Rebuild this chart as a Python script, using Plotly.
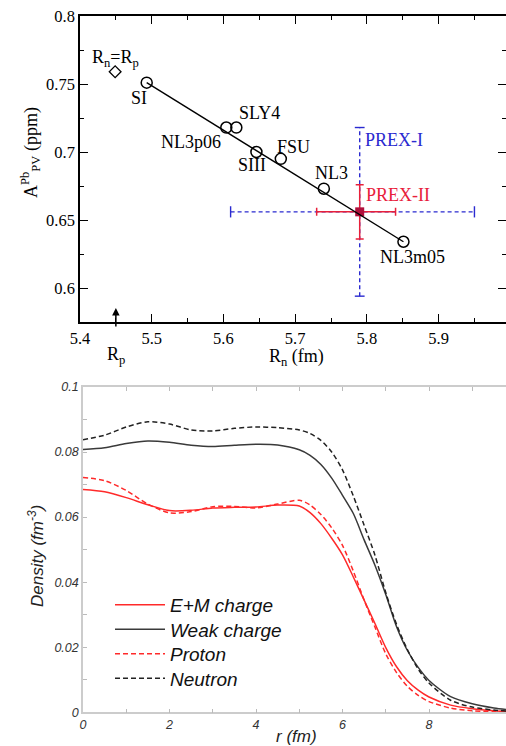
import plotly.graph_objects as go

# ---------------- data: upper panel ----------------
model_names = ["SI", "NL3p06", "SLY4", "SIII", "FSU", "NL3", "NL3m05"]
model_rn = [5.493, 5.604, 5.618, 5.646, 5.680, 5.740, 5.851]
model_apv = [0.751, 0.718, 0.718, 0.700, 0.695, 0.673, 0.634]
fit_rn = [5.493, 5.851]
fit_apv = [0.751, 0.634]
equal_rn = [5.449]
equal_apv = [0.759]
rp_value = 5.45

prex1_rn, prex1_apv = 5.79, 0.656
prex1_rn_minus, prex1_rn_plus, prex1_apv_err = 0.18, 0.16, 0.062
prex2_rn, prex2_apv = 5.79, 0.656
prex2_rn_minus, prex2_rn_plus, prex2_apv_err = 0.06, 0.05, 0.020

top_xticks = [5.4, 5.5, 5.6, 5.7, 5.8, 5.9]
top_xticktext = ["5.4", "5.5", "5.6", "5.7", "5.8", "5.9"]
top_yticks = [0.6, 0.65, 0.7, 0.75, 0.8]
top_yticktext = ["0.6", "0.65", "0.7", "0.75", "0.8"]

# ---------------- data: lower panel ----------------
r = [0, 0.5, 1, 1.5, 2, 2.5, 3, 3.5, 4, 4.5, 5.0, 5.25, 5.5, 5.75, 6.0, 6.25,
     6.5, 6.75, 7.0, 7.25, 7.5, 7.75, 8.0, 8.5, 9.0, 9.5, 9.8]
em_charge = [0.0685, 0.0678, 0.0660, 0.0638, 0.0620, 0.0621, 0.0628, 0.0630, 0.0631,
             0.0637, 0.0634, 0.0614, 0.0580, 0.0535, 0.0484, 0.0416, 0.0345, 0.0273,
             0.0199, 0.0140, 0.0097, 0.0068, 0.0047, 0.0022, 0.0011, 0.0005, 0.0003]
weak_charge = [0.0808, 0.0813, 0.0826, 0.0834, 0.0830, 0.0821, 0.0817, 0.0821, 0.0824,
               0.0822, 0.0807, 0.0790, 0.0762, 0.0720, 0.0667, 0.0611, 0.0530, 0.0452,
               0.0362, 0.0263, 0.0190, 0.0138, 0.0098, 0.0048, 0.0026, 0.0013, 0.0008]
proton = [0.0722, 0.0712, 0.0682, 0.0640, 0.0613, 0.0617, 0.0632, 0.0633, 0.0628,
          0.0640, 0.0652, 0.0637, 0.0608, 0.0567, 0.0513, 0.0434, 0.0345, 0.0262,
          0.0180, 0.0122, 0.0080, 0.0052, 0.0033, 0.0013, 0.0005, 0.0002, 0.0001]
neutron = [0.0838, 0.0852, 0.0877, 0.0893, 0.0886, 0.0868, 0.0865, 0.0873, 0.0877,
           0.0875, 0.0868, 0.0857, 0.0836, 0.0800, 0.0745, 0.0665, 0.0575, 0.0483,
           0.0368, 0.0270, 0.0193, 0.0133, 0.0090, 0.0037, 0.0016, 0.0007, 0.0004]
series_names = ["E+M charge", "Weak charge", "Proton", "Neutron"]

bot_xticks = [0, 2, 4, 6, 8]
bot_xticktext = ["0", "2", "4", "6", "8"]
bot_yticks = [0, 0.02, 0.04, 0.06, 0.08, 0.1]
bot_yticktext = ["0", "0.02", "0.04", "0.06", "0.08", "0.1"]

# ---------------- style ----------------
W, H = 506, 746
SERIF = "Liberation Serif"
SANS = "Liberation Sans"
BLUE = "#2a2ad0"
RED = "#e8203a"
SQUARE = "#b0103c"
CRED = "#ff2a2a"


def px_x(p):
    return p / W


def px_y(p):
    return 1 - p / H


fig = go.Figure()

# PREX-I dashed error bars
fig.add_trace(go.Scatter(x=[prex1_rn - prex1_rn_minus, prex1_rn + prex1_rn_plus],
                         y=[prex1_apv, prex1_apv], mode="lines",
                         line=dict(color=BLUE, width=1.4, dash="4px,3px"),
                         xaxis="x", yaxis="y", showlegend=False))
fig.add_trace(go.Scatter(x=[prex1_rn, prex1_rn],
                         y=[prex1_apv - prex1_apv_err, prex1_apv + prex1_apv_err], mode="lines",
                         line=dict(color=BLUE, width=1.4, dash="4px,3px"),
                         xaxis="x", yaxis="y", showlegend=False))
fig.add_trace(go.Scatter(x=[prex1_rn - prex1_rn_minus, prex1_rn + prex1_rn_plus],
                         y=[prex1_apv, prex1_apv], mode="markers",
                         marker=dict(symbol="line-ns", size=8, line=dict(color=BLUE, width=1.4)),
                         xaxis="x", yaxis="y", showlegend=False))
fig.add_trace(go.Scatter(x=[prex1_rn, prex1_rn],
                         y=[prex1_apv - prex1_apv_err, prex1_apv + prex1_apv_err], mode="markers",
                         marker=dict(symbol="line-ew", size=7, line=dict(color=BLUE, width=1.4)),
                         xaxis="x", yaxis="y", showlegend=False))
# PREX-II
fig.add_trace(go.Scatter(x=[prex2_rn], y=[prex2_apv], mode="markers",
                         marker=dict(symbol="square", size=9, color=SQUARE),
                         error_x=dict(type="data", symmetric=False, array=[prex2_rn_plus],
                                      arrayminus=[prex2_rn_minus], color=RED, thickness=1.5, width=4),
                         error_y=dict(type="data", array=[prex2_apv_err], color=RED,
                                      thickness=1.5, width=4),
                         xaxis="x", yaxis="y", showlegend=False))
# fit line
fig.add_trace(go.Scatter(x=fit_rn, y=fit_apv, mode="lines",
                         line=dict(color="black", width=1.4),
                         xaxis="x", yaxis="y", showlegend=False))
# models
fig.add_trace(go.Scatter(x=model_rn, y=model_apv, mode="markers",
                         marker=dict(symbol="circle-open", size=11, color="black",
                                     line=dict(width=1.5, color="black")),
                         xaxis="x", yaxis="y", showlegend=False))
fig.add_trace(go.Scatter(x=equal_rn, y=equal_apv, mode="markers",
                         marker=dict(symbol="diamond-open", size=9, color="black",
                                     line=dict(width=1.3, color="black")),
                         xaxis="x", yaxis="y", showlegend=False))

# ---- lower panel curves (each in its own legend box for exact spacing) ----
curve_styles = [
    dict(color=CRED, dash="solid"),
    dict(color="#3a3a3a", dash="solid"),
    dict(color=CRED, dash="5px,3px"),
    dict(color="#222222", dash="5px,3px"),
]
legend_ids = ["legend", "legend2", "legend3", "legend4"]
for name, ys, st, lid in zip(series_names, [em_charge, weak_charge, proton, neutron],
                             curve_styles, legend_ids):
    fig.add_trace(go.Scatter(x=r, y=ys, mode="lines", name=name,
                             line=dict(color=st["color"], width=1.5, dash=st["dash"],
                                       shape="spline", smoothing=0.8),
                             xaxis="x2", yaxis="y2", legend=lid))

# ---- annotations ----
label_pos = {
    "SI": (5.482, 0.740),
    "NL3p06": (5.555, 0.7074),
    "SLY4": (5.650, 0.7287),
    "SIII": (5.640, 0.6905),
    "FSU": (5.697, 0.7037),
    "NL3": (5.751, 0.6846),
    "NL3m05": (5.863, 0.623),
}
ann = []
lab_font = dict(family=SERIF, size=18, color="black")
for name in model_names:
    lx, ly = label_pos[name]
    ann.append(dict(x=lx, y=ly, xref="x", yref="y", text=name, showarrow=False,
                    font=lab_font, xanchor="center", yanchor="middle"))
ann.append(dict(x=5.450, y=0.7685, xref="x", yref="y",
                text="R<sub>n</sub>=R<sub>p</sub>", showarrow=False,
                font=lab_font, xanchor="center", yanchor="middle"))
ann.append(dict(x=5.838, y=0.7089, xref="x", yref="y", text="PREX-I", showarrow=False,
                font=dict(family=SERIF, size=18, color=BLUE), xanchor="center", yanchor="middle"))
ann.append(dict(x=5.843, y=0.6684, xref="x", yref="y", text="PREX-II", showarrow=False,
                font=dict(family=SERIF, size=18, color=RED), xanchor="center", yanchor="middle"))
# R_p arrow
ann.append(dict(x=rp_value, y=0.5853, xref="x", yref="y", text="", showarrow=True,
                ax=0, ay=20, arrowhead=2, arrowsize=1, arrowwidth=1.5, arrowcolor="black"))
ann.append(dict(x=rp_value, y=px_y(355), xref="x", yref="paper",
                text="R<sub>p</sub>", showarrow=False, font=lab_font,
                xanchor="center", yanchor="middle"))
# axis titles top
ann.append(dict(x=px_x(296), y=px_y(357), xref="paper", yref="paper",
                text="R<sub>n</sub> (fm)", showarrow=False, font=lab_font,
                xanchor="center", yanchor="middle"))
ann.append(dict(x=px_x(30), y=px_y(153), xref="paper", yref="paper",
                text="A<sup>Pb</sup><sub>PV</sub> (ppm)", showarrow=False, font=lab_font,
                textangle=-90, xanchor="center", yanchor="middle"))
# axis titles bottom
ann.append(dict(x=px_x(296), y=px_y(736), xref="paper", yref="paper",
                text="r (fm)", showarrow=False,
                font=dict(family=SANS, size=17, color="#222", style="italic"),
                xanchor="center", yanchor="middle"))
ann.append(dict(x=px_x(36), y=px_y(556), xref="paper", yref="paper",
                text="Density (fm<sup>-3</sup>)", showarrow=False,
                font=dict(family=SANS, size=17, color="#222", style="italic"),
                textangle=-90, xanchor="center", yanchor="middle"))

top_tick_font = dict(family=SERIF, size=16.5, color="black")
bot_tick_font = dict(family=SANS, size=12.5, color="#333", style="italic")

legend_font = dict(family=SANS, size=19, color="#111", style="italic")
legend_centers = [605, 629.5, 654, 678.5]
legend_layout = {}
for lid, cy in zip(legend_ids, legend_centers):
    legend_layout[lid] = dict(x=px_x(110), y=px_y(cy), xanchor="left", yanchor="middle",
                              xref="paper", yref="paper",
                              bgcolor="rgba(0,0,0,0)", borderwidth=0, itemwidth=50,
                              font=legend_font)

fig.update_layout(
    width=W, height=H,
    margin=dict(l=0, r=0, t=0, b=0, autoexpand=False),
    paper_bgcolor="white", plot_bgcolor="white",
    annotations=ann,
    xaxis=dict(domain=[px_x(80), 1], range=[5.4, 5.994], anchor="y",
               tickvals=top_xticks, ticktext=top_xticktext,
               ticks="inside", ticklen=8, tickwidth=1.3, tickcolor="black",
               minor=dict(dtick=0.05, tick0=5.4, ticks="inside", ticklen=4,
                          tickwidth=1.3, tickcolor="black"),
               showline=True, linecolor="black", linewidth=1.5, mirror="ticks",
               showgrid=False, zeroline=False, tickfont=top_tick_font, automargin=False),
    yaxis=dict(domain=[px_y(322), px_y(16)], range=[0.575, 0.8], anchor="x",
               tickvals=top_yticks, ticktext=top_yticktext,
               ticks="inside", ticklen=8, tickwidth=1.3, tickcolor="black",
               minor=dict(dtick=0.025, tick0=0.6, ticks="inside", ticklen=4,
                          tickwidth=1.3, tickcolor="black"),
               showline=True, linecolor="black", linewidth=1.5, mirror="ticks",
               showgrid=False, zeroline=False, tickfont=top_tick_font, automargin=False),
    xaxis2=dict(domain=[px_x(83), 1], range=[0, 9.78], anchor="y2",
                tickvals=bot_xticks, ticktext=bot_xticktext,
                ticks="inside", ticklen=4, tickwidth=1, tickcolor="#bbbbbb",
                minor=dict(dtick=1, tick0=0, ticks="inside", ticklen=4,
                           tickwidth=1, tickcolor="#bbbbbb"),
                showline=True, linecolor="#cccccc", linewidth=1.5, mirror="ticks",
                showgrid=False, zeroline=False, tickfont=bot_tick_font, automargin=False),
    yaxis2=dict(domain=[px_y(712.3), px_y(387)], range=[0, 0.1], anchor="x2",
                tickvals=bot_yticks, ticktext=bot_yticktext,
                ticks="inside", ticklen=4, tickwidth=1, tickcolor="#bbbbbb",
                minor=dict(dtick=0.01, tick0=0, ticks="inside", ticklen=4,
                           tickwidth=1, tickcolor="#bbbbbb"),
                showline=True, linecolor="#cccccc", linewidth=1.5, mirror=False,
                showgrid=False, zeroline=False, tickfont=bot_tick_font, automargin=False),
    showlegend=True,
    **legend_layout,
)

fig.write_html("out.html", config={"displayModeBar": False},
               post_script="document.body.style.margin='0';document.body.style.overflow='hidden';")
